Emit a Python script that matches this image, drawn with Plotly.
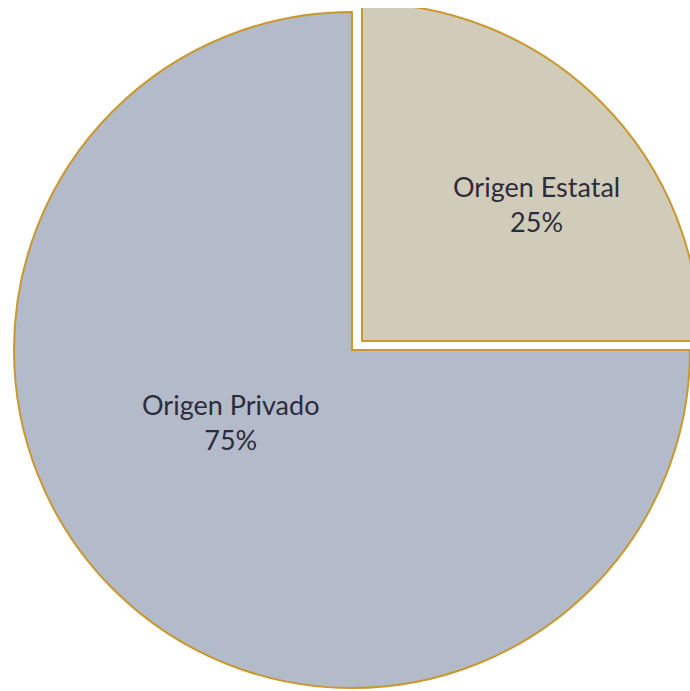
import plotly.graph_objects as go

labels = ["Origen Estatal", "Origen Privado"]
values = [25, 75]

W, H = 700, 691
EST = "#d1cbba"
PRIV = "#b3bac9"
BORDER = "#c9982f"
CLEAR = "rgba(0,0,0,0)"
FONT = dict(family="Lato, 'Open Sans', sans-serif", size=27, color="#2c2c3b")

fig = go.Figure()

common = dict(labels=labels, values=values, sort=False, direction="clockwise", rotation=0,
              textinfo="none", showlegend=False, hoverinfo="skip")

# Privado slice (Estatal part hidden)
fig.add_trace(go.Pie(
    marker=dict(colors=[CLEAR, PRIV], line=dict(color=[CLEAR, BORDER], width=[0, 2])),
    domain=dict(x=[14 / W, 690 / W], y=[(H - 688) / H, (H - 12) / H]),
    **common,
))

# Estatal slice, pulled out (Privado part hidden)
fig.add_trace(go.Pie(
    marker=dict(colors=[EST, CLEAR], line=dict(color=[BORDER, CLEAR], width=[2, 0])),
    domain=dict(x=[24 / W, 700 / W], y=[(H - 679) / H, (H - 3) / H]),
    **common,
))

total = sum(values)
label_pos = {"Origen Estatal": (536, 204), "Origen Privado": (230, 422)}
annotations = []
for lab, val in zip(labels, values):
    px, py = label_pos[lab]
    annotations.append(dict(
        text=f"{lab}<br>{round(100 * val / total)}%",
        x=px / W, y=1 - py / H, xref="paper", yref="paper",
        xanchor="center", yanchor="middle", showarrow=False, font=FONT, align="center",
    ))

fig.update_layout(
    width=W, height=H,
    margin=dict(l=0, r=0, t=0, b=0),
    paper_bgcolor="white", plot_bgcolor="white",
    annotations=annotations,
    shapes=[dict(type="rect", xref="paper", yref="paper", x0=0, x1=1,
                 y0=(H - 8) / H, y1=1, fillcolor="white", line=dict(width=0), layer="above")],
)

fig.write_html("out.html", config={"displayModeBar": False},
               post_script="document.body.style.margin='0px';document.body.style.overflow='hidden';")
